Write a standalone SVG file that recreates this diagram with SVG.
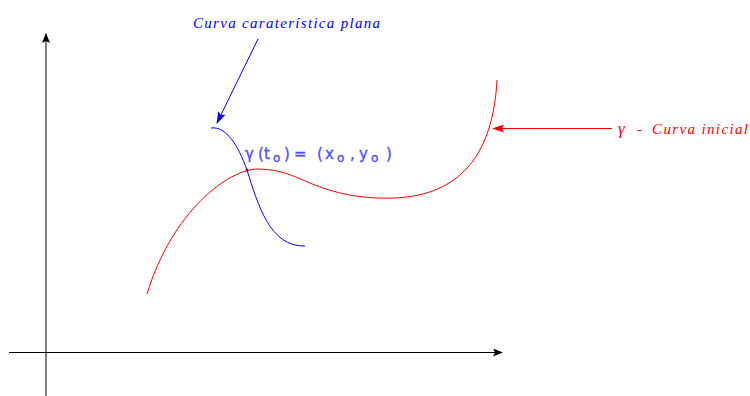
<svg xmlns="http://www.w3.org/2000/svg" width="750" height="396" viewBox="0 0 750 396">
<style>
.axis{stroke:#000;stroke-width:1;fill:none}
.lbl{font-family:"Liberation Serif",serif;font-style:italic;font-size:15px}
.pt{font-family:"DejaVu Sans",sans-serif;font-size:15px;fill:#5050ff;stroke:#5050ff;stroke-width:0.35}
.sub{font-size:12px}
</style>
<defs>
<marker id="ak" markerWidth="10" markerHeight="8" refX="9" refY="4" orient="auto" markerUnits="userSpaceOnUse"><path d="M0,0 L10,4 L0,8 L2,4 Z" fill="#000"/></marker>
<marker id="ab" markerWidth="12" markerHeight="8" refX="11" refY="4" orient="auto" markerUnits="userSpaceOnUse"><path d="M0,0 L12,4 L0,8 L2,4 Z" fill="#0000ff"/></marker>
<marker id="ar" markerWidth="12" markerHeight="8" refX="11" refY="4" orient="auto" markerUnits="userSpaceOnUse"><path d="M0,0 L12,4 L0,8 L2,4 Z" fill="#ff0000"/></marker>
</defs>
<g id="axes">
<line class="axis" x1="46" y1="396" x2="46" y2="34" marker-end="url(#ak)"/>
<line class="axis" x1="9" y1="352.5" x2="502" y2="352.5" marker-end="url(#ak)"/>
</g>
<g id="curva-inicial">
<path d="M147,294 C172,212 228,169 258,169 C285,169 300,180 320,187 C345,196 370,199 395,198 C460,195 493,155 497,80" fill="none" stroke="#ff0000" stroke-width="1"/>
</g>
<g id="curva-caracteristica">
<path d="M211,128 C226,126 238,145 247,170 C258,205 270,247 305,246" fill="none" stroke="#0000ff" stroke-width="1"/>
</g>
<g id="ponto">
<circle cx="247" cy="170" r="1.5" fill="#a00040"/>
<text class="pt" y="159"><tspan x="245">γ</tspan><tspan x="258">(</tspan><tspan x="264">t</tspan><tspan class="sub" x="273" y="162">o</tspan><tspan x="284" y="159">)</tspan><tspan x="294">=</tspan><tspan x="317">(</tspan><tspan x="325">x</tspan><tspan class="sub" x="337" y="162">o</tspan><tspan x="350" y="159">,</tspan><tspan x="359">y</tspan><tspan class="sub" x="371" y="162">o</tspan><tspan x="386" y="159">)</tspan></text>
</g>
<g id="connectors">
<line x1="258" y1="39" x2="217" y2="123" stroke="#0000ff" stroke-width="1" marker-end="url(#ab)"/>
<line x1="612" y1="128.5" x2="493" y2="128.5" stroke="#ff0000" stroke-width="1" marker-end="url(#ar)"/>
</g>
<g id="label-caracteristica">
<text class="lbl" x="193" y="28" fill="#0000ff" textLength="187" lengthAdjust="spacing">Curva caraterística plana</text>
</g>
<g id="label-inicial">
<text class="lbl" y="134" fill="#ff0000"><tspan x="618" font-size="17">γ</tspan><tspan x="637" font-style="normal">-</tspan><tspan x="652" textLength="96" lengthAdjust="spacing">Curva inicial</tspan></text>
</g>
</svg>
